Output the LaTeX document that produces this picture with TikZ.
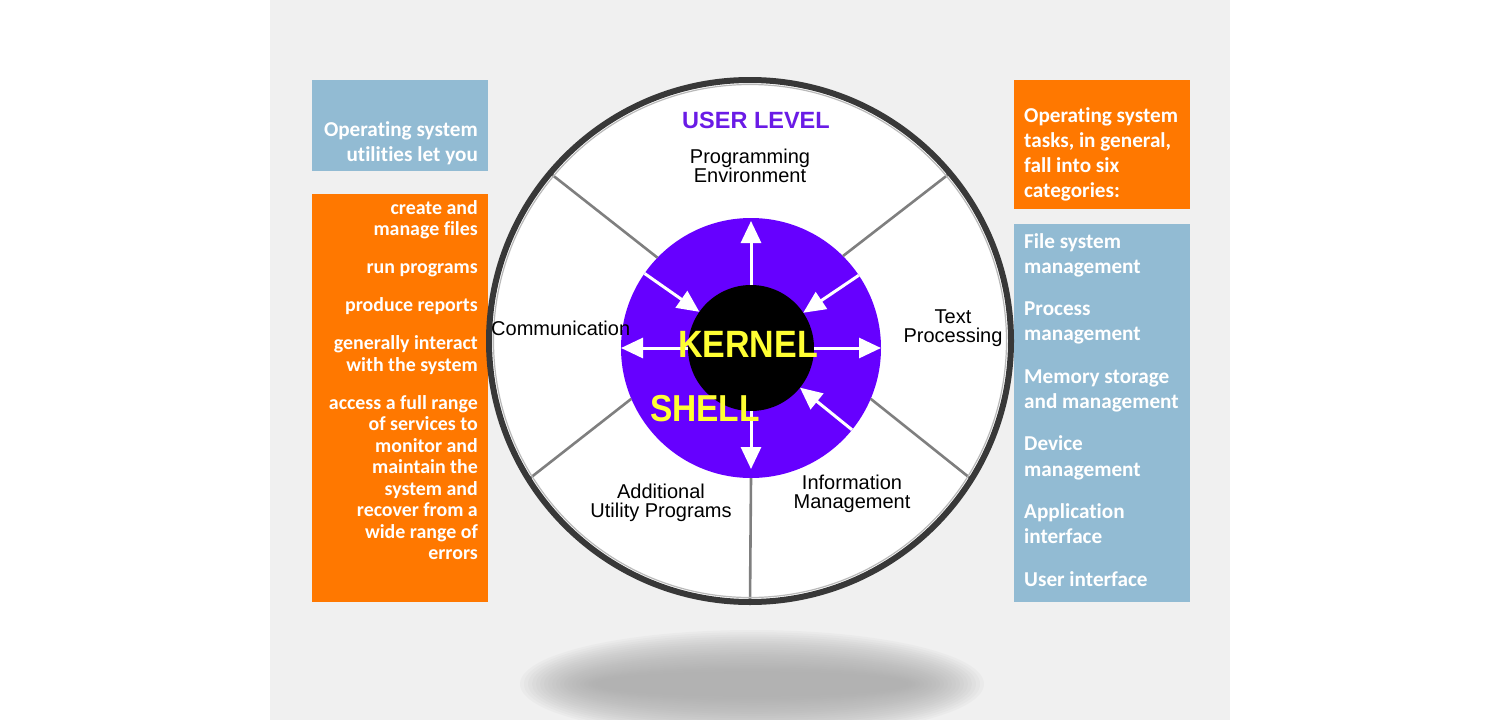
\documentclass[tikz,border=0pt]{standalone}
\usepackage{fontspec}
\setmainfont{Carlito}[Ligatures=NoCommon]
\newfontfamily\arialf{Liberation Sans}
\usetikzlibrary{arrows.meta}
\definecolor{bgc}{HTML}{F0F0F0}
\definecolor{bluec}{HTML}{92BBD3}
\definecolor{orangec}{HTML}{FF7800}
\definecolor{shellc}{HTML}{6600FF}
\definecolor{userc}{HTML}{6A1BE6}
\definecolor{kyel}{HTML}{FFFF33}
\definecolor{ringc}{HTML}{383838}
\definecolor{spokec}{HTML}{7F7F7F}
\definecolor{shadc}{HTML}{A8A8A8}
\tikzset{
  panel/.style={inner sep=0pt, outer sep=0pt, anchor=north west},
  bigtxt/.style={text=white, inner sep=0pt, font=\bfseries\fontsize{21.2}{25.3}\selectfont},
  smalltxt/.style={text=white, inner sep=0pt, font=\bfseries\fontsize{19.9}{21.5}\selectfont},
  lbl/.style={inner sep=0pt, align=center, font=\arialf\fontsize{20}{19.5}\selectfont},
  arr/.style={draw=white, line width=3pt, -{Triangle[length=22pt,width=20pt,fill=white]}},
  spoke/.style={draw=spokec, line width=2.6pt}
}
\begin{document}
\begin{tikzpicture}[x=1pt,y=-1pt]
\useasboundingbox (0,0) rectangle (1500,720);
\fill[white] (0,0) rectangle (1500,720);
\fill[bgc] (270,0) rectangle (1230,720);
% floor shadow
\foreach \i in {0,...,19}
  \fill[shadc, opacity=0.075] (752,684) ellipse [x radius={232-4*\i}, y radius={54-2.2*\i}];

% side panels
\node[panel, fill=bluec, minimum width=176, minimum height=91] (lbox) at (312,80) {};
\node[panel, fill=orangec, minimum width=176, minimum height=408] (obox) at (312,194) {};
\node[panel, fill=orangec, minimum width=176, minimum height=129] (robox) at (1014,80) {};
\node[panel, fill=bluec, minimum width=176, minimum height=378] (rbbox) at (1014,224) {};

\node[bigtxt, align=right, anchor=north east] (ltxt) at (478,121) {Operating system\\utilities let you};
\node[smalltxt, align=right, anchor=north east] (otxt) at (478,200)
 {create and\\manage files\\[16.5pt]run programs\\[16.5pt]produce reports\\[16.5pt]generally interact\\with the system\\[16.5pt]access a full range\\of services to\\monitor and\\maintain the\\system and\\recover from a\\wide range of\\errors};
\node[bigtxt, align=left, anchor=north west] (rotxt) at (1024,107)
 {Operating system\\tasks, in general,\\fall into six\\categories:};
\node[bigtxt, align=left, anchor=north west] (rbtxt) at (1024,233)
 {File system\\management\\[17pt]Process\\management\\[17pt]Memory storage\\and management\\[17pt]Device\\management\\[17pt]Application\\interface\\[17pt]User interface};

% wheel
\node[circle, fill=white, minimum size=524, inner sep=0pt, outer sep=0pt] (ring) at (750,341) {};
\node[circle, fill=shellc, minimum size=260, inner sep=0pt, outer sep=0pt] (shell) at (751,348) {};
\node[circle, fill=black, minimum size=126, inner sep=0pt, outer sep=0pt] (kernel) at (751,348) {};

\draw[spoke] (shell.136) -- (ring.140);
\draw[spoke] (shell.45) -- (ring.40);
\draw[spoke] (shell.203) -- (ring.212);
\draw[spoke] (shell.-23) -- (ring.-32);
\draw[spoke] (shell.-90) -- (ring.-90);

\draw[ringc, line width=6pt] (ring.center) circle [radius=261];
\draw[gray!55, line width=1.2pt] (ring.center) circle [radius=256.5];

\draw[arr, shorten >=3pt] (kernel.90) -- (shell.90);
\draw[arr] (kernel.180) -- (shell.180);
\draw[arr] (kernel.0) -- (shell.0);
\draw[arr, shorten >=9pt] (kernel.-90) -- (shell.-90);
\draw[arr] (shell.145) -- (kernel.145);
\draw[arr] (shell.34) -- (kernel.34);
\draw[arr] (shell.-39) -- (kernel.-39);

\node[inner sep=0pt, text=kyel, font=\arialf\bfseries\fontsize{34}{34}\selectfont, yscale=1.12] (kt) at (748,344) {KERNEL};
\node[inner sep=0pt, text=kyel, font=\arialf\bfseries\fontsize{33.5}{34}\selectfont, yscale=1.12] (st) at (705,409) {SHELL};
\node[inner sep=0pt, text=userc, font=\arialf\bfseries\fontsize{23.5}{24}\selectfont] (ul) at (756,120) {USER LEVEL};

\node[lbl] (pe) at (750,166) {Programming\\Environment};
\node[lbl, anchor=west] (cm) at (491,328) {Communication};
\node[lbl] (tp) at (953,328) {Text\\Processing};
\node[lbl] (im) at (852,494) {Information\\Management};
\node[lbl] (au) at (661,503) {Additional\\Utility Programs};
\end{tikzpicture}
\end{document}
